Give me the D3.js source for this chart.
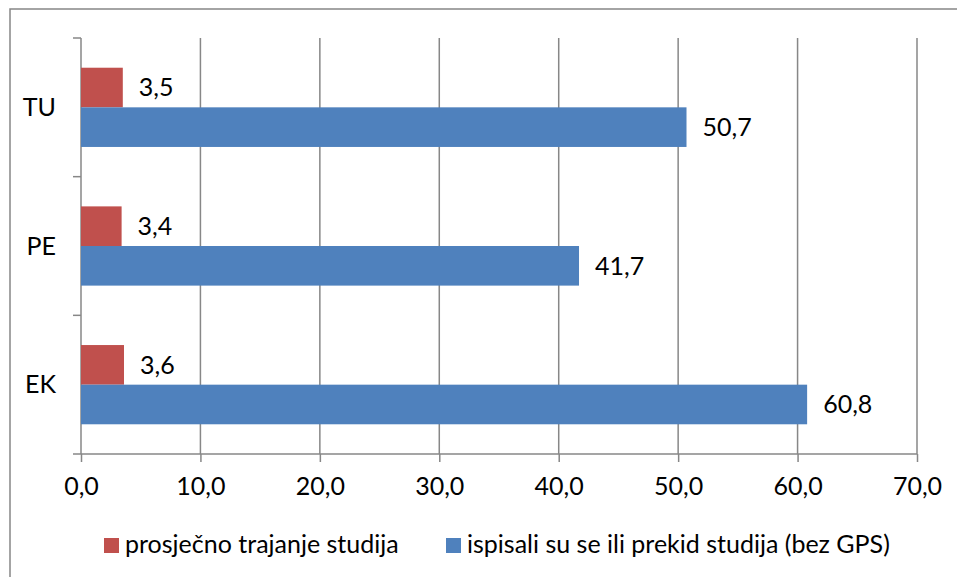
<!DOCTYPE html>
<html>
<head>
<meta charset="utf-8">
<script src="https://cdn.jsdelivr.net/npm/d3@7"></script>
<style>
  body { margin: 0; background: #fff; }
  svg { display: block; font-family: Lato, "Open Sans", sans-serif; }
</style>
</head>
<body>
<div id="chart"></div>
<script>
const categories = ["TU", "PE", "EK"];
const seriesNames = ["prosječno trajanje studija", "ispisali su se ili prekid studija (bez GPS)"];
const seriesColors = ["#C0504D", "#4F81BD"];
const trajanje = [3.5, 3.4, 3.6];
const ispisali = [50.7, 41.7, 60.8];
const xTicks = [0, 10, 20, 30, 40, 50, 60, 70];

const width = 957, height = 577;
const margin = { top: 38, right: 40, bottom: 123, left: 81 };
const fontSize = 25;
const gridColor = "#878787";

const fmt = v => d3.format(".1f")(v).replace(".", ",");

const data = categories.map((c, i) => ({ cat: c, values: [trajanje[i], ispisali[i]] }));

const svg = d3.select("#chart").append("svg")
    .attr("width", width)
    .attr("height", height);

// outer border of the chart area
svg.append("rect")
    .attr("x", 10).attr("y", 9)
    .attr("width", width + 10).attr("height", height + 10)
    .attr("fill", "none")
    .attr("stroke", gridColor)
    .attr("stroke-width", 1.5);

const x = d3.scaleLinear().domain([0, 70]).range([margin.left, 917]);
const y = d3.scaleBand().domain(categories).range([margin.top, 454]).padding(0);
const ySub = d3.scaleBand().domain([0, 1]).range([0, y.bandwidth()]).paddingInner(0).paddingOuter(0.75);

// vertical gridlines
svg.append("g")
    .selectAll("line")
    .data(xTicks.filter(d => d > 0))
    .join("line")
    .attr("x1", d => x(d)).attr("x2", d => x(d))
    .attr("y1", margin.top).attr("y2", 454)
    .attr("stroke", gridColor)
    .attr("stroke-width", 1.5);

// x axis
const xAxis = svg.append("g")
    .attr("transform", "translate(0,454)")
    .call(d3.axisBottom(x).tickValues(xTicks).tickFormat(fmt).tickSize(8).tickPadding(15).tickSizeOuter(0));
xAxis.select(".domain").attr("stroke", gridColor).attr("stroke-width", 1.5)
    .attr("d", `M${margin.left - 8},0H917`);
xAxis.selectAll(".tick line").attr("stroke", gridColor).attr("stroke-width", 1.5);
xAxis.selectAll(".tick text").attr("font-size", fontSize).attr("font-family", "Lato").attr("fill", "#000");

// y axis: ticks at category boundaries
const yg = svg.append("g");
yg.append("line")
    .attr("x1", margin.left).attr("x2", margin.left)
    .attr("y1", margin.top).attr("y2", 454)
    .attr("stroke", gridColor).attr("stroke-width", 1.5);
yg.selectAll(".bound")
    .data(categories)
    .join("line")
    .attr("class", "bound")
    .attr("x1", margin.left - 8).attr("x2", margin.left)
    .attr("y1", d => y(d)).attr("y2", d => y(d))
    .attr("stroke", gridColor).attr("stroke-width", 1.5);
yg.selectAll(".cat")
    .data(categories)
    .join("text")
    .attr("x", 56)
    .attr("y", d => y(d) + y.bandwidth() / 2)
    .attr("dy", "0.35em")
    .attr("text-anchor", "end")
    .attr("font-size", fontSize)
    .text(d => d);

// bars
const groups = svg.append("g")
    .selectAll("g")
    .data(data)
    .join("g")
    .attr("transform", d => `translate(0,${y(d.cat)})`);

groups.selectAll("rect")
    .data(d => d.values.map((v, i) => ({ v, i })))
    .join("rect")
    .attr("x", x(0))
    .attr("y", d => ySub(d.i))
    .attr("width", d => x(d.v) - x(0))
    .attr("height", ySub.bandwidth())
    .attr("fill", d => seriesColors[d.i]);

groups.selectAll("text")
    .data(d => d.values.map((v, i) => ({ v, i })))
    .join("text")
    .attr("x", d => x(d.v) + 16)
    .attr("y", d => ySub(d.i) + ySub.bandwidth() / 2)
    .attr("dy", "0.35em")
    .attr("font-size", fontSize)
    .text(d => fmt(d.v));

// legend
const legendX = [104, 446];
const legend = svg.append("g")
    .selectAll("g")
    .data(seriesNames)
    .join("g")
    .attr("transform", (d, i) => `translate(${legendX[i]},538)`);
legend.append("rect")
    .attr("width", 15).attr("height", 15)
    .attr("fill", (d, i) => seriesColors[i]);
legend.append("text")
    .attr("x", 21)
    .attr("y", 15)
    .attr("font-size", fontSize)
    .text(d => d);
</script>
</body>
</html>
